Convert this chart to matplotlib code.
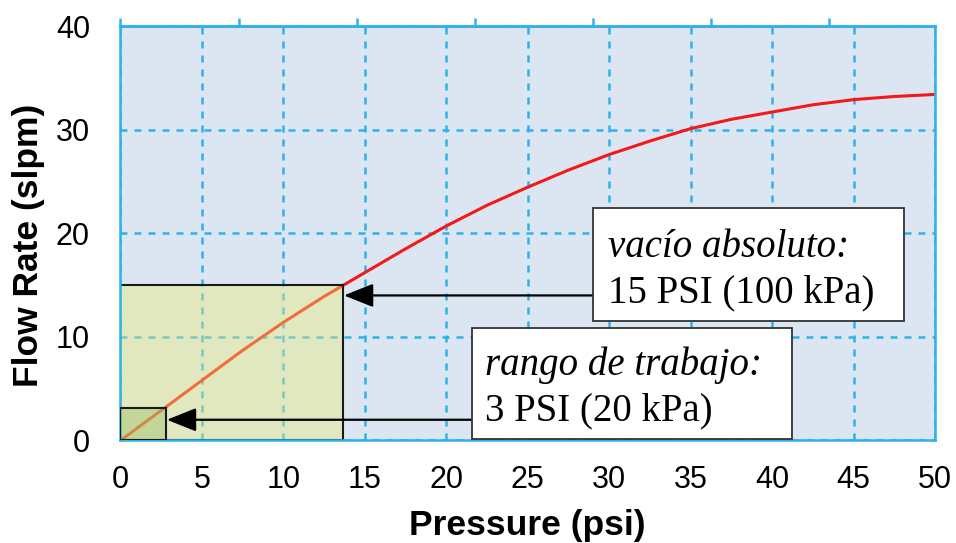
import matplotlib.pyplot as plt
from matplotlib.patches import Rectangle

# curva de caudal
presion = [0, 2.5, 5, 7.5, 10, 12.5, 15, 17.5, 20, 22.5, 25, 27.5, 30,
           32.5, 35, 37.5, 40, 42.5, 45, 47.5, 50]  # psi
caudal = [0, 2.9, 5.8, 8.7, 11.4, 13.9, 16.2, 18.5, 20.7, 22.7, 24.45, 26.1, 27.6,
          28.9, 30.1, 31.0, 31.7, 32.4, 32.9, 33.2, 33.4]  # slpm

# zonas marcadas
vacio_psi, vacio_flujo = 13.67, 15.0
rango_psi, rango_flujo = 2.8, 3.1

x_ticks = [0, 5, 10, 15, 20, 25, 30, 35, 40, 45, 50]
y_ticks = [0, 10, 20, 30, 40]
kpa_ticks = [0, 50, 100, 150, 200, 250, 300]
PSI_KPA = 6.89476

AZUL = '#2eb2ec'
FONDO = '#dce6f2'

plt.rcParams['font.family'] = ['Liberation Sans', 'DejaVu Sans']

fig = plt.figure(figsize=(9.56, 5.43), dpi=100)
ax = fig.add_axes([0.126, 0.1888, 0.852, 0.7632])
ax.set_facecolor(FONDO)
ax.set_axisbelow(True)

ax.plot(presion, caudal, color='#f41818', lw=2.2, zorder=2)

# rectangulos semitransparentes encima de la curva
ax.add_patch(Rectangle((0, 0), vacio_psi, vacio_flujo, facecolor=(0.92, 0.93, 0.46, 0.4),
                       edgecolor='#1a1a1a', lw=1.5, zorder=2.5))
ax.add_patch(Rectangle((0, 0), rango_psi, rango_flujo, facecolor=(0.60, 0.725, 0.38, 0.4),
                       edgecolor='#1a1a1a', lw=1.5, zorder=2.6))

# cajas de texto
ax.add_patch(Rectangle((29.0, 11.57), 19.07, 10.83, facecolor='white',
                       edgecolor='#333333', lw=1.3, zorder=4))
ax.add_patch(Rectangle((21.6, 0.15), 19.65, 10.75, facecolor='white',
                       edgecolor='#333333', lw=1.3, zorder=4))

serif = ['Liberation Serif', 'DejaVu Serif']
ax.text(29.95, 17.67, 'vacío absoluto:', family=serif, style='italic', fontsize=28,
        va='baseline', ha='left', zorder=5)
ax.text(29.95, 13.3, '15 PSI (100 kPa)', family=serif, fontsize=28,
        va='baseline', ha='left', zorder=5)
ax.text(22.4, 6.34, 'rango de trabajo:', family=serif, style='italic', fontsize=28,
        va='baseline', ha='left', zorder=5)
ax.text(22.4, 1.98, '3 PSI (20 kPa)', family=serif, fontsize=28,
        va='baseline', ha='left', zorder=5)

flecha = dict(arrowstyle='-|>,head_length=0.55,head_width=0.22', mutation_scale=33,
              color='black', lw=1.6, shrinkA=0, shrinkB=0)
ax.annotate('', xy=(vacio_psi + 0.05, 14.0), xytext=(29.0, 14.0), arrowprops=flecha, zorder=3)
ax.annotate('', xy=(rango_psi + 0.05, 2.0), xytext=(21.6, 2.0), arrowprops=flecha, zorder=3)

ax.set_xlim(0, 50)
ax.set_ylim(0, 40)
ax.set_xticks(x_ticks)
ax.set_yticks(y_ticks)
ax.grid(True, color=AZUL, lw=1.8, linestyle=(0, (2.8, 2.8)))
ax.tick_params(axis='x', length=0, pad=18, labelsize=22)
ax.tick_params(axis='y', length=0, pad=22, labelsize=22)
for s in ax.spines.values():
    s.set_color(AZUL)
    s.set_linewidth(1.8)

# eje superior en kPa, solo marcas
sec = ax.secondary_xaxis('top', functions=(lambda p: p * PSI_KPA, lambda k: k / PSI_KPA))
sec.set_xticks(kpa_ticks)
sec.set_xticklabels([])
sec.tick_params(length=6, width=1.8, color=AZUL, direction='out')
sec.spines['top'].set_color(AZUL)
sec.spines['top'].set_linewidth(1.8)

ax.set_xlabel('Pressure (psi)', fontsize=25.5, fontweight='bold', va='top')
ax.set_ylabel('Flow Rate (slpm)', fontsize=25.5, fontweight='bold')
ax.xaxis.set_label_coords(0.5, -0.165)
ax.yaxis.set_label_coords(-0.093, 0.47)

fig.savefig('out.png', dpi=100)
